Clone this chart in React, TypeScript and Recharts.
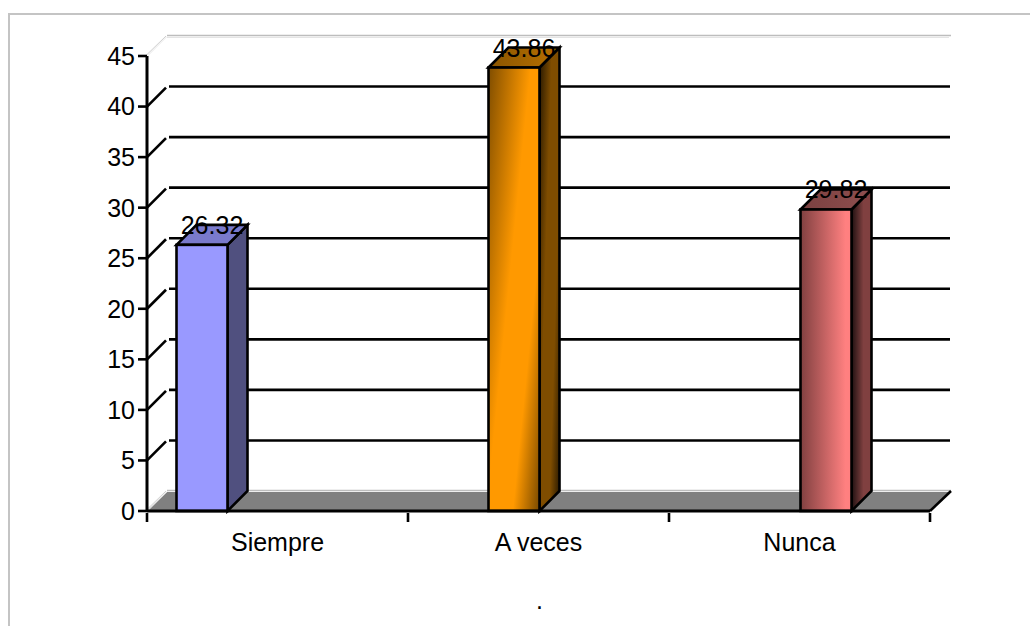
import React from 'react'
import { BarChart, Bar, CartesianGrid, XAxis, YAxis, LabelList } from 'recharts'

const categories = ['Siempre', 'A veces', 'Nunca']
const siempre = [26.32, null, null]
const aVeces = [null, 43.86, null]
const nunca = [null, null, 29.82]
const yTicks = [0, 5, 10, 15, 20, 25, 30, 35, 40, 45]

const rows = categories.map((name, i) => ({ name, siempre: siempre[i], aVeces: aVeces[i], nunca: nunca[i] }))

const FONT = '"Liberation Sans", Arial, sans-serif'
const DEPTH = 20
const BAR_SHIFT = -24.5 // the bar group sits left of the category centre

type Stop = [number, string]
type Face = { stops: Stop[]; span: number; tilt: number }
type Look = { id: string; front: Face; side: Face; top: Face }

const flat = (c: string): Face => ({ stops: [[0, c], [1, c]], span: 50, tilt: 0 })

const blueLook: Look = { id: 'siempre', front: flat('#9999ff'), side: flat('#50507f'), top: flat('#7a7acc') }
const orangeLook: Look = {
  id: 'aveces',
  front: { stops: [[0, '#7f4d00'], [0.45, '#ff9900'], [0.73, '#ff9900'], [1, '#7f4d00']], span: 94, tilt: 0.1 },
  side: { stops: [[0, '#2b1a00'], [0.36, '#7f4d00'], [0.7, '#7f4d00'], [1, '#2b1a00']], span: 33, tilt: 0.03 },
  top: { stops: [[0, '#8a5500'], [1, '#b87000']], span: 70, tilt: 0 },
}
const pinkLook: Look = {
  id: 'nunca',
  front: { stops: [[0, '#804040'], [0.9, '#ff8080'], [1, '#ff8080']], span: 50, tilt: 0 },
  side: { stops: [[0, '#1e1010'], [0.6, '#804040'], [1, '#804040']], span: 20, tilt: 0 },
  top: { stops: [[0, '#7a4040'], [1, '#8f4f4f']], span: 70, tilt: 0 },
}

function Grad({ id, face, x, y }: { id: string; face: Face; x: number; y: number }) {
  const n = 1 + face.tilt * face.tilt
  return (
    <linearGradient
      id={id}
      gradientUnits="userSpaceOnUse"
      x1={x}
      y1={y}
      x2={x + face.span / n}
      y2={y + (face.span * face.tilt) / n}
    >
      {face.stops.map(([o, c]) => (
        <stop key={o} offset={o} stopColor={c} />
      ))}
    </linearGradient>
  )
}

// Box-shaped bar: front face plus the receding top and side faces
const box = (look: Look) => (props: any) => {
  const { x, y, width, height } = props
  if (!height) return null
  const l = x + BAR_SHIFT
  const r = l + width
  const b = y + height
  return (
    <g stroke="#000" strokeWidth={2.6} strokeLinejoin="miter">
      <defs>
        <Grad id={`${look.id}-f`} face={look.front} x={l} y={y} />
        <Grad id={`${look.id}-s`} face={look.side} x={r} y={y} />
        <Grad id={`${look.id}-t`} face={look.top} x={l} y={y} />
      </defs>
      <polygon
        points={`${r},${y} ${r + DEPTH},${y - DEPTH} ${r + DEPTH},${b - DEPTH} ${r},${b}`}
        fill={`url(#${look.id}-s)`}
      />
      <polygon
        points={`${l},${y} ${l + DEPTH},${y - DEPTH} ${r + DEPTH},${y - DEPTH} ${r},${y}`}
        fill={`url(#${look.id}-t)`}
      />
      <rect x={l} y={y} width={width} height={height} fill={`url(#${look.id}-f)`} />
    </g>
  )
}

function ValueLabel(props: any) {
  const { x, y, width, value } = props
  if (value == null) return null
  return (
    <text
      x={x + BAR_SHIFT + width / 2 + DEPTH / 2}
      y={y - 11}
      textAnchor="middle"
      fontFamily={FONT}
      fontSize={25}
      fill="#000"
    >
      {value}
    </text>
  )
}

// Each grid line runs along the back wall, with a diagonal down to the axis
function WallLine(props: any) {
  const { x1, x2, y1, index } = props
  const back = y1 - DEPTH
  if (index === 0 || index === yTicks.length - 1) {
    const isFloor = yTicks[index] === 0 || y1 > 300
    return (
      <g key={`wall-${index}`} fill="none">
        {isFloor && (
          <polygon
            points={`${x1},${y1} ${x1 + DEPTH},${back + 1} ${x2 + DEPTH},${back + 1} ${x2},${y1}`}
            fill="#808080"
            stroke="none"
          />
        )}
        <line x1={x1 + DEPTH} y1={back - 0.5} x2={x2 + DEPTH + 1} y2={back - 0.5} stroke="#bdbdbd" strokeWidth={1.5} />
        {!isFloor && <line x1={x1 + DEPTH} y1={back + 1.5} x2={x2 + DEPTH - 1} y2={back + 1.5} stroke="#e4e4e4" strokeWidth={1} />}
        <line x1={x1 - 0.5} y1={y1 - 1} x2={x1 + DEPTH - 1} y2={back} stroke="#cfcfcf" strokeWidth={1} />
        <line x1={x1 + 1} y1={y1 - 0.5} x2={x1 + DEPTH} y2={back + 0.5} stroke="#e8e8e8" strokeWidth={1} />
        {isFloor && <line x1={x2} y1={y1} x2={x2 + DEPTH + 1} y2={back} stroke="#000" strokeWidth={2.6} />}
      </g>
    )
  }
  return (
    <g key={`wall-${index}`} stroke="#000" strokeWidth={2.6}>
      <line x1={x1 + DEPTH + 2} y1={back} x2={x2 + DEPTH} y2={back} />
      <line x1={x1} y1={y1} x2={x1 + DEPTH - 1} y2={back + 1} />
    </g>
  )
}

// Category label at the band centre, tick marks at the band edges
function CategoryTick(props: any) {
  const { x, y, payload, index } = props
  const half = payload.offset ?? 130.5
  const axisY = y - 9
  return (
    <g>
      <line x1={x - half} y1={axisY} x2={x - half} y2={axisY + 9} stroke="#000" strokeWidth={2.6} />
      {index === categories.length - 1 && (
        <line x1={x + half} y1={axisY} x2={x + half} y2={axisY + 9} stroke="#000" strokeWidth={2.6} />
      )}
      <text x={x} y={551} textAnchor="middle" fontFamily={FONT} fontSize={25} fill="#000">
        {payload.value}
      </text>
    </g>
  )
}

export default function App() {
  return (
    <div style={{ position: 'absolute', left: 0, top: 0, width: 1030, height: 626, background: '#fff', overflow: 'hidden' }}>
      <div
        style={{
          position: 'absolute',
          left: 8,
          top: 13,
          right: 0,
          bottom: 0,
          borderLeft: '2.5px solid #c4c4c4',
          borderTop: '2.5px solid #c4c4c4',
        }}
      />
      <BarChart
        width={1030}
        height={626}
        data={rows}
        barSize={51}
        barGap={0}
        margin={{ top: 56, right: 100, bottom: 55, left: 87 }}
        style={{ position: 'absolute', left: 0, top: 0 }}
      >
        <CartesianGrid vertical={false} horizontal={WallLine as any} />
        <XAxis
          dataKey="name"
          height={60}
          interval={0}
          tickLine={false}
          tick={CategoryTick as any}
          tickSize={9}
          axisLine={{ stroke: '#000', strokeWidth: 3 }}
          label={{ value: '.', position: 'bottom', offset: 20, fontFamily: FONT, fontSize: 25, fill: '#000', dx: 1 }}
        />
        <YAxis
          width={60}
          domain={[0, 45]}
          ticks={yTicks}
          interval={0}
          tickSize={9}
          tickMargin={3}
          tick={{ fontFamily: FONT, fontSize: 25, fill: '#000' }}
          tickLine={{ stroke: '#000', strokeWidth: 2.6 }}
          axisLine={{ stroke: '#000', strokeWidth: 3 }}
        />
        <Bar dataKey="siempre" isAnimationActive={false} shape={box(blueLook)}>
          <LabelList dataKey="siempre" content={ValueLabel} />
        </Bar>
        <Bar dataKey="aVeces" isAnimationActive={false} shape={box(orangeLook)}>
          <LabelList dataKey="aVeces" content={ValueLabel} />
        </Bar>
        <Bar dataKey="nunca" isAnimationActive={false} shape={box(pinkLook)}>
          <LabelList dataKey="nunca" content={ValueLabel} />
        </Bar>
      </BarChart>
    </div>
  )
}
